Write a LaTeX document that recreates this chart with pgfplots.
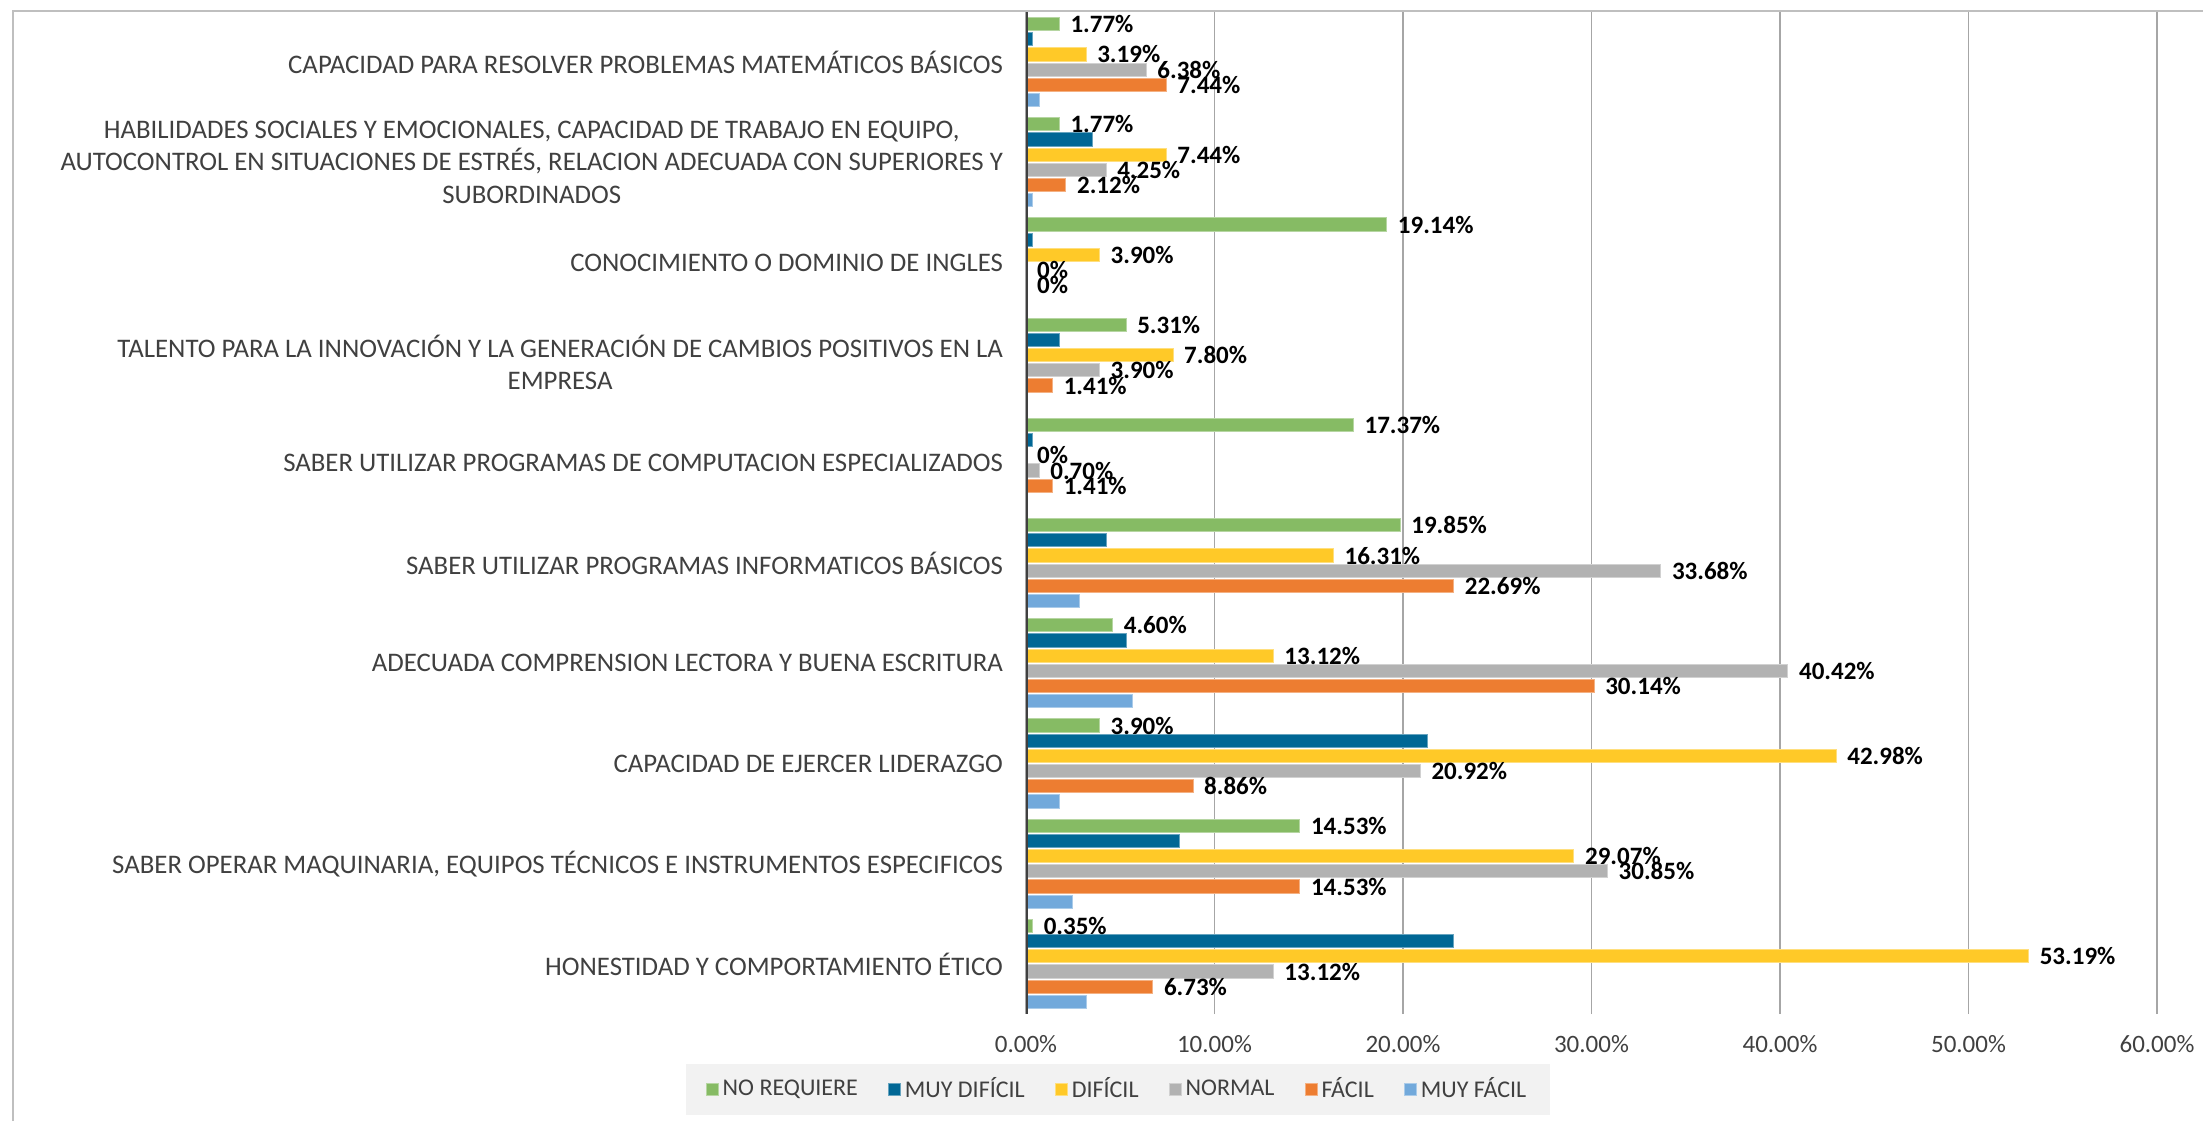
\documentclass[border=0pt]{standalone}
\usepackage{pgfplots}
\pgfplotsset{compat=1.18}
\usepackage{fontspec}
\setmainfont{Carlito}
\definecolor{cG}{HTML}{86BB64}
\definecolor{cDB}{HTML}{016795}
\definecolor{cY}{HTML}{FFC928}
\definecolor{cGr}{HTML}{B2B2B2}
\definecolor{cO}{HTML}{ED7D31}
\definecolor{cLB}{HTML}{72A9DB}
\definecolor{txt}{HTML}{404040}
\begin{document}
\begin{tikzpicture}
\useasboundingbox (0,0) rectangle (1101.5pt,560.5pt);
\draw[black!25, line width=1.2pt] (6.5pt,0) -- (6.5pt,555pt) -- (1101.5pt,555pt);
\begin{axis}[
  at={(513pt,53.5pt)}, anchor=south west,
  scale only axis, width=565.5pt, height=501pt,
  xmin=0, xmax=60, ymin=-0.5, ymax=9.5,
  xbar=1pt, bar width=6.6pt,
  axis line style={draw=none},
  major tick length=0pt,
  xmajorgrids, grid style={black!35, line width=0.7pt},
  xtick={0,10,20,30,40,50,60},
  xticklabels={0.00\%,10.00\%,20.00\%,30.00\%,40.00\%,50.00\%,60.00\%},
  xticklabel style={font=\fontsize{12.5}{14}\selectfont, text=txt, yshift=-7pt},
  ytick={0,1,2,3,4,5,6,7,8,9},
  yticklabels={
    HONESTIDAD Y COMPORTAMIENTO ÉTICO,
    SABER OPERAR MAQUINARIA{,} EQUIPOS TÉCNICOS E INSTRUMENTOS ESPECIFICOS,
    CAPACIDAD DE EJERCER LIDERAZGO,
    ADECUADA COMPRENSION LECTORA Y BUENA ESCRITURA,
    SABER UTILIZAR PROGRAMAS INFORMATICOS BÁSICOS,
    SABER UTILIZAR PROGRAMAS DE COMPUTACION ESPECIALIZADOS,
    TALENTO PARA LA INNOVACIÓN Y LA GENERACIÓN DE CAMBIOS POSITIVOS EN LA\\EMPRESA,
    CONOCIMIENTO O DOMINIO DE INGLES,
    HABILIDADES SOCIALES Y EMOCIONALES{,} CAPACIDAD DE TRABAJO EN EQUIPO{,}\\AUTOCONTROL EN SITUACIONES DE ESTRÉS{,} RELACION ADECUADA CON SUPERIORES Y\\SUBORDINADOS,
    CAPACIDAD PARA RESOLVER PROBLEMAS MATEMÁTICOS BÁSICOS},
  yticklabel style={align=center, font=\fontsize{13.4}{16.2}\selectfont, text=txt, xshift=-8pt},
  point meta=explicit symbolic,
  every node near coord/.append style={font=\bfseries\fontsize{12.5}{14}\selectfont, text=black, anchor=west, xshift=2pt},
  reverse legend,
  legend columns=6,
  legend style={at={(0.0813,-0.075)}, anchor=center, draw=none, fill=black!5,
    font=\fontsize{12}{13.5}\selectfont, text=txt, inner xsep=10pt, inner ysep=5pt,
    /tikz/every even column/.append style={column sep=13pt}},
  legend image code/.code={\fill[#1] (0pt,-3pt) rectangle (6pt,3pt);},
]
\addplot[fill=cLB, draw=cLB!60!white, line width=0.5pt] coordinates {
 (0.70,9) (0.35,8) (0,7) (0,6) (0,5) (2.84,4) (5.67,3) (1.77,2) (2.48,1) (3.19,0)};
\addlegendentry{MUY FÁCIL}
\addplot[fill=cO, draw=cO!60!white, line width=0.5pt, nodes near coords] coordinates {
 (7.44,9)[7.44\%] (2.12,8)[2.12\%] (0,7)[0\%] (1.41,6)[1.41\%] (1.41,5)[1.41\%]
 (22.69,4)[22.69\%] (30.14,3)[30.14\%] (8.86,2)[8.86\%] (14.53,1)[14.53\%] (6.73,0)[6.73\%]};
\addlegendentry{FÁCIL}
\addplot[fill=cGr, draw=cGr!60!white, line width=0.5pt, nodes near coords] coordinates {
 (6.38,9)[6.38\%] (4.25,8)[4.25\%] (0,7)[0\%] (3.90,6)[3.90\%] (0.70,5)[0.70\%]
 (33.68,4)[33.68\%] (40.42,3)[40.42\%] (20.92,2)[20.92\%] (30.85,1)[30.85\%] (13.12,0)[13.12\%]};
\addlegendentry{NORMAL}
\addplot[fill=cY, draw=cY!60!white, line width=0.5pt, nodes near coords] coordinates {
 (3.19,9)[3.19\%] (7.44,8)[7.44\%] (3.90,7)[3.90\%] (7.80,6)[7.80\%] (0,5)[0\%]
 (16.31,4)[16.31\%] (13.12,3)[13.12\%] (42.98,2)[42.98\%] (29.07,1)[29.07\%] (53.19,0)[53.19\%]};
\addlegendentry{DIFÍCIL}
\addplot[fill=cDB, draw=cDB!60!white, line width=0.5pt] coordinates {
 (0.35,9) (3.55,8) (0.35,7) (1.77,6) (0.35,5) (4.25,4) (5.32,3) (21.28,2) (8.16,1) (22.70,0)};
\addlegendentry{MUY DIFÍCIL}
\addplot[fill=cG, draw=cG!60!white, line width=0.5pt, nodes near coords] coordinates {
 (1.77,9)[1.77\%] (1.77,8)[1.77\%] (19.14,7)[19.14\%] (5.31,6)[5.31\%] (17.37,5)[17.37\%]
 (19.85,4)[19.85\%] (4.60,3)[4.60\%] (3.90,2)[3.90\%] (14.53,1)[14.53\%] (0.35,0)[0.35\%]};
\addlegendentry{NO REQUIERE}
\draw[black!75, line width=1.5pt] (axis cs:0,-0.5) -- (axis cs:0,9.5);
\end{axis}
\end{tikzpicture}
\end{document}
